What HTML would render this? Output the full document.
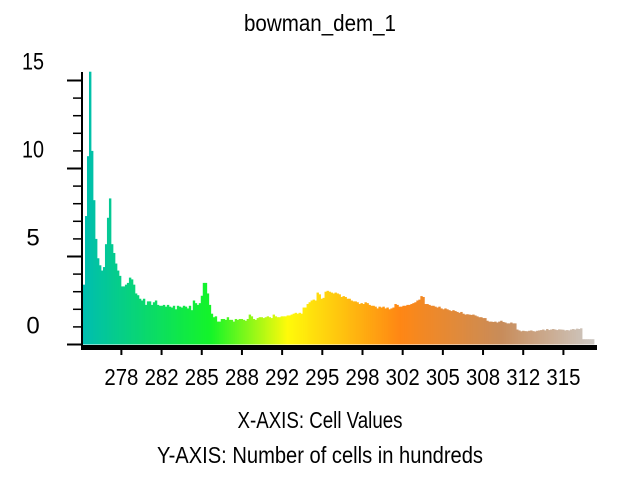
<!DOCTYPE html>
<html><head><meta charset="utf-8"><style>
html,body{margin:0;padding:0;background:#fff;width:640px;height:480px;overflow:hidden}
svg{display:block}
text{font-family:"Liberation Sans",sans-serif;fill:#000}
</style></head><body>
<svg id="chart" width="640" height="480" xmlns="http://www.w3.org/2000/svg">
<text x="320" y="31" text-anchor="middle" font-size="23" textLength="152" lengthAdjust="spacingAndGlyphs">bowman_dem_1</text>
<g id="bars"></g>
<g id="yaxis"></g>
<g id="xaxis"></g>
<text x="320" y="428" text-anchor="middle" font-size="23" textLength="165" lengthAdjust="spacingAndGlyphs">X-AXIS: Cell Values</text>
<text x="320" y="463" text-anchor="middle" font-size="23" textLength="326" lengthAdjust="spacingAndGlyphs">Y-AXIS: Number of cells in hundreds</text>
</svg>
<script>
const counts = [3.4,7.3,10.7,15.5,11.0,8.2,6.0,4.9,4.5,4.2,4.4,5.7,7.2,8.3,5.7,5.2,4.6,4.2,3.9,3.3,3.3,3.4,3.5,3.8,3.7,3.4,2.9,2.8,2.6,2.5,2.6,2.25,2.45,2.45,2.25,2.4,2.5,2.25,2.2,2.2,2.25,2.15,2.25,2.15,2.1,2.2,2.0,2.2,2.15,2.1,2.2,2.15,2.05,2.2,1.95,2.5,2.35,2.25,2.35,2.77,3.5,3.5,2.9,2.25,1.75,1.55,1.6,1.3,1.3,1.45,1.45,1.4,1.55,1.4,1.4,1.3,
1.45,1.4,1.45,1.45,1.4,1.35,1.45,1.7,1.6,1.45,1.4,1.5,1.55,1.55,1.5,1.55,1.6,1.55,1.5,1.7,1.6,1.55,1.55,1.6,1.6,1.6,1.65,1.65,1.7,1.75,1.8,1.75,1.8,1.75,2.1,2.1,2.3,2.4,2.5,2.55,2.5,2.95,2.85,2.6,2.65,3.0,3.05,3.0,2.95,2.9,2.95,2.9,2.85,2.7,2.75,2.7,2.6,2.6,2.5,2.45,2.45,2.4,2.3,2.35,2.3,2.4,2.35,2.25,2.2,2.2,2.15,2.05,2.15,2.1,2.15,2.05,2.1,2.0,2.05,2.1,2.3,2.25,2.15,2.15,2.2,2.2,2.25,2.25,2.3,2.35,2.4,2.5,2.55,2.75,2.7,2.3,2.3,2.25,2.2,2.2,2.15,2.1,2.15,2.05,2.0,2.05,2.0,1.95,1.9,1.95,1.9,1.85,1.8,1.85,1.75,1.7,1.72,1.7,1.68,1.7,1.65,1.6,1.55,1.55,1.5,1.5,1.35,1.3,1.3,1.28,1.3,1.25,1.3,1.35,1.28,1.25,1.2,1.2,1.25,1.2,1.2,0.85,0.8,0.75,0.78,0.76,0.75,0.78,0.8,0.76,0.74,0.78,0.8,0.82,0.85,0.8,0.88,0.82,0.85,0.88,0.85,0.82,0.86,0.85,0.84,0.8,0.82,0.8,0.85,0.88,0.85,0.9,0.88,0.92,0.3,0.3,0.3,0.3,0.3,0.3];
const xTickValues = [278.3,281.65,285.0,288.35,291.7,295.05,298.4,301.75,305.1,308.45,311.8,315.15];
const xTickLabels = ["278","282","285","288","292","295","298","302","305","308","312","315"];
const yTickLabels = ["0","5","10","15"];
const yTickValues = [0,5,10,15];
const xMin = 275.1, xMax = 317.7;

const NS = "http://www.w3.org/2000/svg";
const plotL = 83, plotR = 594, baseY = 344.5, pxPerUnit = 17.6;
const xScale = v => plotL + (v - xMin) / (xMax - xMin) * (plotR - plotL);
const yScale = v => baseY - v * pxPerUnit;
function mk(tag, attrs, parent){const e=document.createElementNS(NS,tag);for(const k in attrs)e.setAttribute(k,attrs[k]);parent.appendChild(e);return e;}

const stops = [[0,[0,190,175]],[0.25,[20,245,40]],[0.4,[255,250,10]],[0.62,[255,135,20]],[0.82,[200,140,90]],[1,[205,200,195]]];
function color(t){for(let i=1;i<stops.length;i++){if(t<=stops[i][0]){const a=stops[i-1],b=stops[i];const f=(t-a[0])/(b[0]-a[0]);const c=a[1].map((v,j)=>Math.round(v+(b[1][j]-v)*f));return `rgb(${c})`;}}return 'rgb(205,200,195)';}

const bars = document.getElementById('bars');
const n = counts.length, bw = (plotR - plotL) / n;
counts.forEach((c,i)=>{
  const x = plotL + i*bw, y = yScale(c);
  const r = mk('rect',{x:x.toFixed(2),y:y.toFixed(2),width:(bw+0.4).toFixed(2),height:(baseY-y).toFixed(2),fill:color(i/(n-1))},bars);
  
  
});

const ya = document.getElementById('yaxis');
mk('line',{x1:82,y1:72,x2:82,y2:346,stroke:'#000','stroke-width':2},ya);
for(let v=0; v<=15; v++){
  const y = yScale(v), major = v%5===0;
  mk('line',{x1:major?67:73,y1:y,x2:82,y2:y,stroke:'#000','stroke-width':major?2:1.5},ya);
}
yTickValues.forEach((v,i)=>{
  const t = mk('text',{x:33,y:yScale(v)-11,'text-anchor':'middle','font-size':24},ya);
  t.textContent = yTickLabels[i];
  if(yTickLabels[i].length>1){t.setAttribute('textLength','22');t.setAttribute('lengthAdjust','spacingAndGlyphs');}
  
  
});

const xa = document.getElementById('xaxis');
mk('rect',{x:81,y:345,width:516,height:5,fill:'#000'},xa);
xTickValues.forEach((v,i)=>{
  const x = xScale(v);
  mk('line',{x1:x,y1:348,x2:x,y2:355,stroke:'#000','stroke-width':2},xa);
  const t = mk('text',{x:x,y:385,'text-anchor':'middle','font-size':23,textLength:34,lengthAdjust:'spacingAndGlyphs'},xa);
  t.textContent = xTickLabels[i];
  
  
});
</script>
</body></html>
